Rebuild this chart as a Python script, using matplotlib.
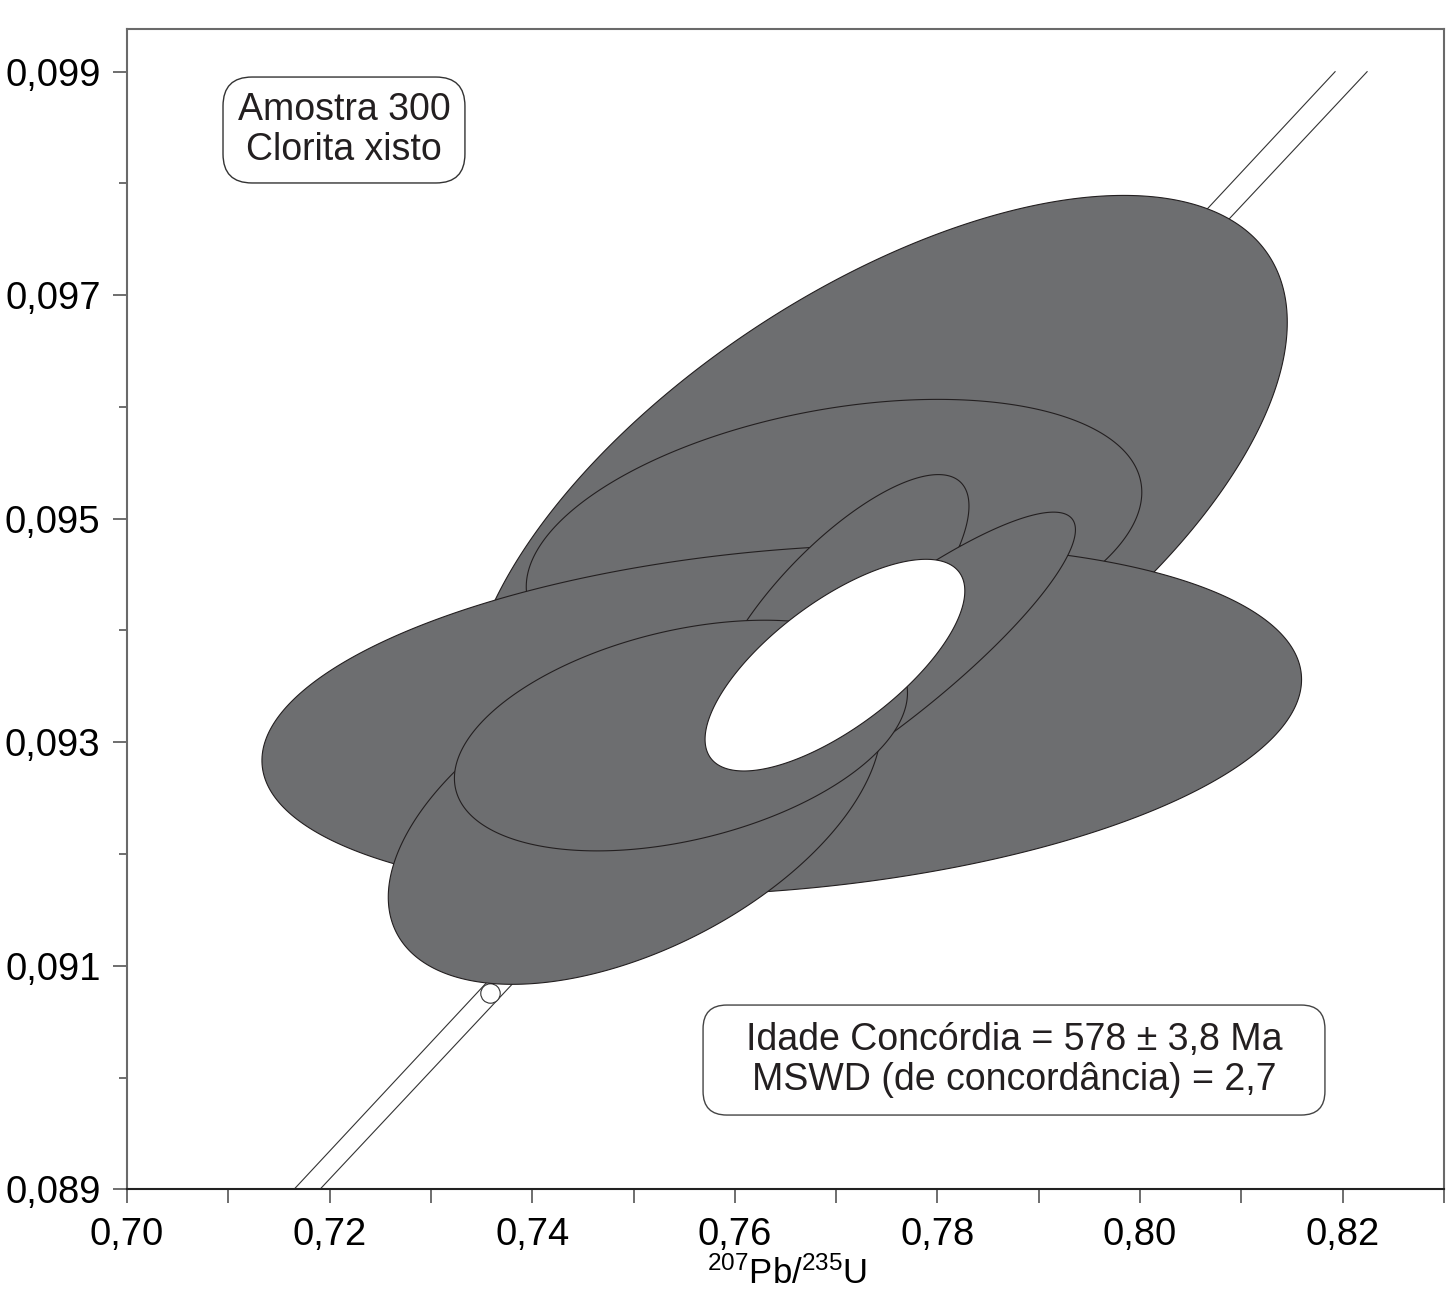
import numpy as np
import matplotlib
matplotlib.use('Agg')
import matplotlib.pyplot as plt
from matplotlib.patches import FancyBboxPatch
import matplotlib.ticker as mticker

# Fonts: Arial-like text, also for the mathtext superscripts
plt.rcParams['font.family'] = ['Liberation Sans', 'DejaVu Sans']
plt.rcParams['mathtext.fontset'] = 'custom'
plt.rcParams['mathtext.rm'] = 'Liberation Sans'
plt.rcParams['mathtext.it'] = 'Liberation Sans:italic'
plt.rcParams['mathtext.bf'] = 'Liberation Sans:bold'

# Step 1: Data (analyses as 207Pb/235U, 206Pb/238U with error half-widths and rho)
# drawing order = order of the lists
pb207_u235 = [0.77407, 0.76979, 0.76463, 0.77031, 0.77448, 0.75012, 0.75468]
err_207_235 = [0.04046, 0.03038, 0.05131, 0.01280, 0.01914, 0.02433, 0.02236]
pb206_u238 = [0.095047, 0.094814, 0.093199, 0.094200, 0.093659, 0.092381, 0.093060]
err_206_238 = [0.002846, 0.001254, 0.001568, 0.001195, 0.001400, 0.001547, 0.001032]
rho = [0.601, 0.337, 0.231, 0.764, 0.887, 0.496, 0.370]

# Concordia age ellipse (578 Ma)
conc_age_x, conc_age_ex = 0.76988, 0.01282
conc_age_y, conc_age_ey = 0.093690, 0.000947
conc_age_rho = 0.701

# Concordia band (decay-constant error envelope), read at the ends
band_left_x = [0.71649, 0.81925]
band_right_x = [0.71905, 0.82241]
band_y = [0.089, 0.099]

# 560 Ma age marker on the concordia
marker_x = [0.73583]
marker_y = [0.090757]

x_ticks = [0.70, 0.72, 0.74, 0.76, 0.78, 0.80, 0.82]
x_minor = [0.71, 0.73, 0.75, 0.77, 0.79, 0.81, 0.83]
y_ticks = [0.089, 0.091, 0.093, 0.095, 0.097, 0.099]
y_minor = [0.090, 0.092, 0.094, 0.096, 0.098]

sample_text = 'Amostra 300\nClorita xisto'
age_text = 'Idade Concórdia = 578 ± 3,8 Ma\nMSWD (de concordância) = 2,7'


def ellipse_xy(x, ex, y, ey, r, n=400):
    t = np.linspace(0, 2 * np.pi, n)
    return x + ex * np.cos(t), y + ey * (r * np.cos(t) + np.sqrt(1 - r * r) * np.sin(t))


# Step 2: Figure
fig = plt.figure(figsize=(14.52, 12.92), dpi=100)
ax = fig.add_axes([127 / 1452, 1 - 1189.3 / 1292, 1317 / 1452, 1160.3 / 1292])
ax.set_xlim(0.70, 0.83)
ax.set_ylim(0.089, 0.099382)

# concordia band and age marker
ax.plot(band_left_x, band_y, color='#333333', lw=0.8, zorder=1)
ax.plot(band_right_x, band_y, color='#333333', lw=0.8, zorder=1)
ax.plot(marker_x, marker_y, 'o', ms=14, mfc='white', mec='#333333', mew=0.8, zorder=2)

# data ellipses
for i in range(len(pb207_u235)):
    ex, ey = ellipse_xy(pb207_u235[i], err_207_235[i], pb206_u238[i], err_206_238[i], rho[i])
    ax.fill(ex, ey, facecolor='#6d6e70', edgecolor='#231f20', lw=0.8, zorder=3)

# concordia age ellipse
ex, ey = ellipse_xy(conc_age_x, conc_age_ex, conc_age_y, conc_age_ey, conc_age_rho)
ax.fill(ex, ey, facecolor='white', edgecolor='#231f20', lw=0.8, zorder=4)

# Step 3: Axes styling
for side in ['left', 'top', 'right']:
    ax.spines[side].set_color('#6a6a6a')
    ax.spines[side].set_linewidth(1.5)
ax.spines['bottom'].set_color('#222222')
ax.spines['bottom'].set_linewidth(1.5)

ax.xaxis.set_major_locator(mticker.FixedLocator(x_ticks))
ax.xaxis.set_minor_locator(mticker.FixedLocator(x_minor))
ax.yaxis.set_major_locator(mticker.FixedLocator(y_ticks))
ax.yaxis.set_minor_locator(mticker.FixedLocator(y_minor))
ax.xaxis.set_major_formatter(mticker.FuncFormatter(lambda v, _: f'{v:.2f}'.replace('.', ',')))
ax.yaxis.set_major_formatter(mticker.FuncFormatter(lambda v, _: f'{v:.3f}'.replace('.', ',')))

ax.tick_params(axis='x', which='both', length=10, width=1.2, color='#555555', pad=10, labelsize=27.5)
ax.tick_params(axis='y', which='major', length=10, width=1.2, color='#555555', pad=9, labelsize=27.5)
ax.tick_params(axis='y', which='minor', length=6, width=1.2, color='#555555')

# x label sits at the very bottom edge of the figure
fig.text(787 / 1452, 1 / 1292, r'$^{207}$Pb/$^{235}$U', ha='center', va='bottom', fontsize=25)

# Step 4: Text boxes
box1 = FancyBboxPatch((0.0729, 0.8673), 0.1837, 0.0913, boxstyle='round,pad=0,rounding_size=0.022',
                      mutation_aspect=1.135, transform=ax.transAxes, facecolor='white',
                      edgecolor='#333333', lw=1.0, zorder=6)
ax.add_patch(box1)
ax.text(0.1648, 0.9130, sample_text, transform=ax.transAxes, ha='center', va='center',
        fontsize=27, linespacing=1.12, color='#231f20', zorder=7)

box2 = FancyBboxPatch((0.4374, 0.0640), 0.4722, 0.0948, boxstyle='round,pad=0,rounding_size=0.018',
                      mutation_aspect=1.135, transform=ax.transAxes, facecolor='white',
                      edgecolor='#444444', lw=1.0, zorder=6)
ax.add_patch(box2)
ax.text(0.6735, 0.1114, age_text, transform=ax.transAxes, ha='center', va='center',
        fontsize=27, linespacing=1.12, color='#231f20', zorder=7)

fig.savefig('out.png', dpi=100)
